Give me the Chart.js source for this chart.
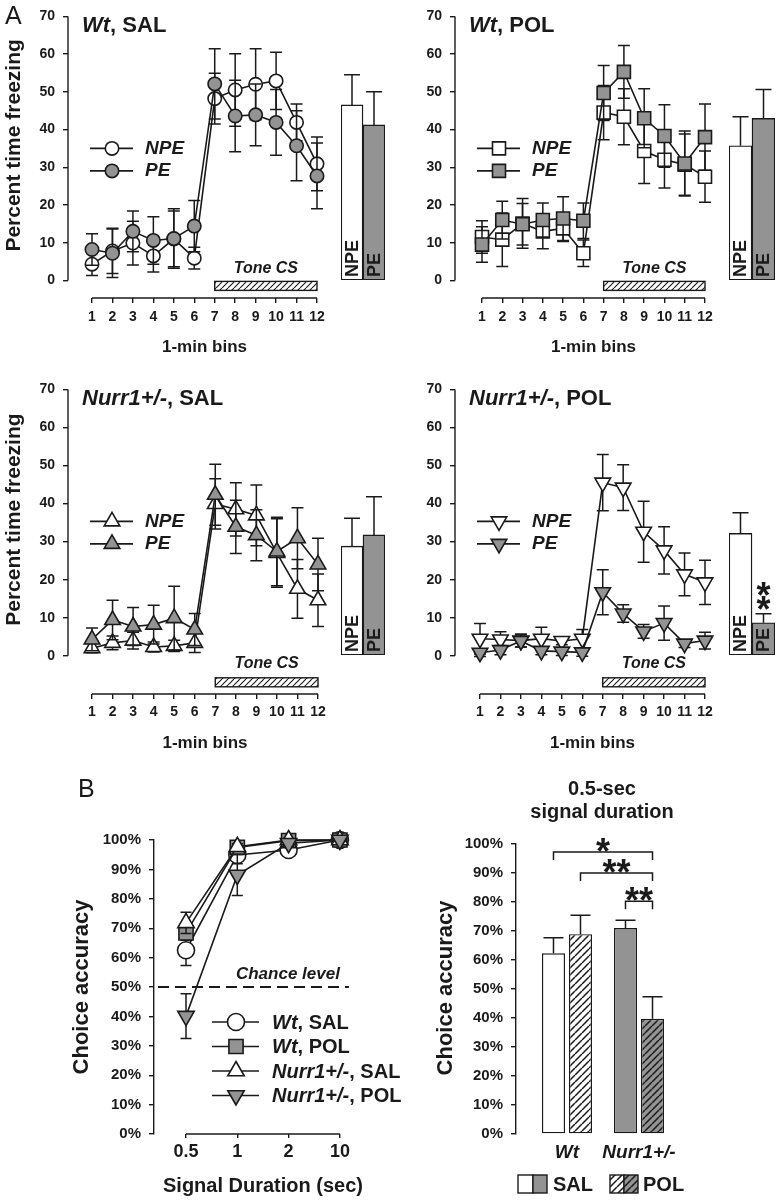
<!DOCTYPE html>
<html><head><meta charset="utf-8">
<script src="https://cdn.jsdelivr.net/npm/chart.js@4.4.1/dist/chart.umd.min.js"></script>
<style>
html,body{margin:0;padding:0;background:#fff;width:780px;height:1200px;overflow:hidden;}
canvas{position:absolute;}
</style></head><body>
<script>
// ================= DATA =================
// Panel A: percent time freezing per 1-min bin
const bins = [1, 2, 3, 4, 5, 6, 7, 8, 9, 10, 11, 12];
const toneBins = [7, 12];
const yTicksA = [0, 10, 20, 30, 40, 50, 60, 70];
const groupLabelsA = ['NPE', 'PE'];
const titlesA = ['Wt, SAL', 'Wt, POL', 'Nurr1+/-, SAL', 'Nurr1+/-, POL'];

const wtSalNPE    = [4.3, 7.8, 9.9, 6.5, 11.0, 5.9, 48.2, 50.5, 52.0, 52.9, 41.9, 30.9];
const wtSalNPEerr = [3.0, 6.0, 5.8, 4.3, 7.4, 2.9, 6.7, 9.6, 9.4, 7.6, 4.9, 7.1];
const wtSalPE     = [8.2, 7.2, 13.0, 10.6, 11.1, 14.4, 52.1, 43.6, 43.9, 41.9, 35.7, 27.7];
const wtSalPEerr  = [4.2, 6.4, 5.4, 6.3, 7.9, 6.8, 9.3, 9.5, 8.2, 8.7, 9.3, 8.7];
const wtSalBar    = [45.4, 40.2];
const wtSalBarErr = [7.8, 8.6];

const wtPolNPE    = [11.5, 10.8, 15.1, 13.0, 13.8, 7.2, 44.5, 43.4, 34.3, 32.0, 30.7, 27.5];
const wtPolNPEerr = [4.3, 7.1, 6.6, 4.6, 3.5, 3.5, 7.2, 7.4, 8.6, 7.5, 8.1, 6.8];
const wtPolPE     = [9.5, 16.0, 14.9, 16.0, 16.4, 15.8, 49.7, 55.3, 43.0, 38.3, 31.0, 38.0];
const wtPolPEerr  = [4.7, 5.0, 5.5, 4.5, 5.8, 4.7, 7.3, 7.0, 7.8, 8.3, 8.6, 8.8];
const wtPolBar    = [34.8, 41.9];
const wtPolBarErr = [7.5, 7.5];

const nSalNPE     = [2.0, 3.4, 4.0, 2.3, 2.6, 3.4, 39.9, 38.5, 36.9, 27.0, 17.6, 14.6];
const nSalNPEerr  = [1.2, 1.8, 2.2, 1.3, 1.5, 2.5, 6.6, 7.0, 8.0, 9.0, 7.7, 6.9];
const nSalPE      = [4.3, 9.4, 7.7, 8.2, 9.9, 6.9, 42.3, 33.9, 31.7, 27.4, 30.9, 24.0];
const nSalPEerr   = [3.0, 5.2, 5.0, 5.1, 8.4, 4.2, 8.0, 7.0, 6.7, 9.0, 8.0, 6.9];
const nSalBar     = [28.0, 30.9];
const nSalBarErr  = [7.2, 9.8];

const nPolNPE     = [4.5, 4.3, 4.0, 4.5, 3.9, 4.5, 45.5, 44.2, 32.6, 27.7, 21.4, 19.3];
const nPolNPEerr  = [4.0, 2.0, 1.7, 3.0, 1.0, 2.4, 7.4, 6.0, 8.0, 6.2, 5.6, 5.8];
const nPolPE      = [0.8, 1.5, 3.9, 1.3, 1.1, 0.9, 16.7, 11.1, 6.4, 8.6, 3.2, 4.0];
const nPolPEerr   = [1.0, 1.2, 1.6, 1.0, 1.0, 1.0, 5.9, 2.3, 1.8, 4.5, 1.0, 2.2];
const nPolBar     = [31.3, 8.3];
const nPolBarErr  = [5.3, 2.3];
const noSig       = ['', ''];
const nPolSig     = ['', '**'];

// Panel B left: choice accuracy vs signal duration
const durations = ['0.5', '1', '2', '10'];
const seriesB   = ['Wt, SAL', 'Wt, POL', 'Nurr1+/-, SAL', 'Nurr1+/-, POL'];
const bWtSal    = [62.5, 94.9, 96.6, 100];
const bWtSalErr = [5.2, 3.0, 1.0, 0.5];
const bWtPol    = [68.4, 97.5, 99.8, 100];
const bWtPolErr = [2.5, 1.0, 0.5, 0.5];
const bNSal     = [71.8, 97.7, 100, 100];
const bNSalErr  = [3.6, 1.0, 0.5, 0.5];
const bNPol     = [40.1, 88.1, 98.9, 100];
const bNPolErr  = [7.6, 7.0, 1.0, 0.5];
const chanceLevel = 50;
const yTicksB = [0, 10, 20, 30, 40, 50, 60, 70, 80, 90, 100];

// Panel B right: 0.5-sec signal duration
const groupsB  = ['Wt', 'Nurr1+/-'];
const treatB   = ['SAL', 'POL'];
const salMeans = [62.3, 71.0];
const salErr   = [5.4, 2.7];
const polMeans = [68.9, 39.7];
const polErr   = [6.5, 7.6];
// [datasetA, indexA, datasetB, indexB, bracket level (%), stars]
const sigB = [[0, 0, 1, 1, 97.2, '*'], [1, 0, 1, 1, 90.0, '**'], [0, 1, 1, 1, 80.3, '**']];

// ================= STYLE / HELPERS =================
const DARK = '#1a1a1a', GRAY = '#939393';
const FF = '"Liberation Sans", Arial, Helvetica, sans-serif';
const fnt = (s, b = true, it = false) => `${it ? 'italic ' : ''}${b ? 'bold ' : ''}${s}px ${FF}`;
Chart.defaults.font.family = FF;
Chart.defaults.color = DARK;

function hatch(bg, fg, s, lw) {
  const c = document.createElement('canvas'); c.width = s; c.height = s;
  const g = c.getContext('2d');
  g.fillStyle = bg; g.fillRect(0, 0, s, s);
  g.strokeStyle = fg; g.lineWidth = lw;
  g.beginPath();
  for (const o of [-s, 0, s]) { g.moveTo(o, s); g.lineTo(o + s, 0); }
  g.stroke();
  return g.createPattern(c, 'repeat');
}
const hatchTone = hatch('#fff', DARK, 6, 1.1);
const hatchW = hatch('#fff', DARK, 7, 1.5);
const hatchG = hatch(GRAY, DARK, 7, 1.5);

function mk(left, top, w, h) {
  const c = document.createElement('canvas');
  c.width = w; c.height = h;
  c.style.left = left + 'px'; c.style.top = top + 'px';
  c.style.width = w + 'px'; c.style.height = h + 'px';
  document.body.appendChild(c);
  return c.getContext('2d');
}
function line(ctx, x0, y0, x1, y1) { ctx.beginPath(); ctx.moveTo(x0, y0); ctx.lineTo(x1, y1); ctx.stroke(); }
function vtext(ctx, t, x, y, font) {
  ctx.save(); ctx.translate(x, y); ctx.rotate(-Math.PI / 2);
  ctx.font = font; ctx.textAlign = 'center'; ctx.textBaseline = 'middle';
  ctx.fillText(t, 0, 0); ctx.restore();
}
function drawRich(ctx, label, x, y, size, align) {
  const i = label.indexOf(', ');
  const parts = i < 0 ? [[label, false]] : [[label.slice(0, i), true], [label.slice(i), false]];
  const ws = parts.map(([t, it]) => { ctx.font = fnt(size, true, it); return ctx.measureText(t).width; });
  const tot = ws.reduce((a, b) => a + b, 0);
  let cx = align === 'center' ? x - tot / 2 : align === 'right' ? x - tot : x;
  ctx.textAlign = 'left';
  parts.forEach(([t, it], k) => { ctx.font = fnt(size, true, it); ctx.fillText(t, cx, y); cx += ws[k]; });
}
function marker(ctx, ds, x, y) {
  ctx.save();
  ctx.fillStyle = ds.pointBackgroundColor; ctx.strokeStyle = DARK; ctx.lineWidth = ds.pointBorderWidth;
  Chart.helpers.drawPoint(ctx, { pointStyle: ds.pointStyle, rotation: ds.pointRotation || 0,
    radius: ds.pointRadius, borderWidth: ds.pointBorderWidth }, x, y);
  ctx.restore();
}
function stars(ctx, s, cx, cy, vertical) {
  ctx.save(); ctx.font = fnt(36); ctx.textAlign = 'center'; ctx.textBaseline = 'alphabetic'; ctx.fillStyle = DARK;
  const n = s.length;
  for (let k = 0; k < n; k++) {
    const off = (k - (n - 1) / 2) * 14;
    if (vertical) ctx.fillText('*', cx, cy - off + 19.8);
    else ctx.fillText('*', cx + off, cy + 19.8);
  }
  ctx.restore();
}
function drawErr(chart, meta, ds) {
  const ctx = chart.ctx, ys = chart.scales[meta.yAxisID];
  ctx.save(); ctx.strokeStyle = DARK; ctx.lineWidth = 1.5;
  meta.data.forEach((el, i) => {
    const v = ds.data[i]; const val = (typeof v === 'object') ? v.y : v; const e = ds.err[i];
    const hw = (ds.errCap || 12) / 2, px = el.x;
    const pt = ys.getPixelForValue(val + e);
    const pb = ds.errUp ? ys.getPixelForValue(val) : ys.getPixelForValue(val - e);
    ctx.beginPath();
    ctx.moveTo(px, pt); ctx.lineTo(px, pb);
    ctx.moveTo(px - hw, pt); ctx.lineTo(px + hw, pt);
    if (!ds.errUp) { ctx.moveTo(px - hw, pb); ctx.lineTo(px + hw, pb); }
    ctx.stroke();
  });
  ctx.restore();
}
const errPlugin = {
  id: 'errbars',
  beforeDatasetDraw(chart, args) { const ds = chart.data.datasets[args.index]; if (ds.err && !ds.errUp) drawErr(chart, args.meta, ds); },
  afterDatasetDraw(chart, args) { const ds = chart.data.datasets[args.index]; if (ds.err && ds.errUp) drawErr(chart, args.meta, ds); }
};
function baseOpts(pad) {
  return { responsive: false, animation: false, events: [], devicePixelRatio: 1,
    layout: { padding: pad, autoPadding: false },
    plugins: { legend: { display: false }, tooltip: { enabled: false }, title: { display: false } } };
}
function lineDs(label, data, err, fill, style, rot, r, order, lw) {
  return { label, data, err, order, clip: false, borderColor: DARK, borderWidth: lw, tension: 0, fill: false,
    pointStyle: style, pointRotation: rot, pointRadius: r, pointHoverRadius: r,
    pointBackgroundColor: fill, pointBorderColor: DARK, pointBorderWidth: lw, pointHoverBorderWidth: lw, errCap: 12 };
}

// ================= PANEL A =================
const panelsA = [
  { title: titlesA[0], npe: wtSalNPE, npeErr: wtSalNPEerr, pe: wtSalPE, peErr: wtSalPEerr, bar: wtSalBar, barErr: wtSalBarErr, sig: noSig,
    style: 'circle', rot: 0, r: 6.7, canvasLeft: 0, axisX: 68, x1: 92, x12: 317, y70: 10, y0: 280, xAxisY: 298,
    bars: [341, 385], yTitle: true, letter: 'A', tone: [-12, 1, 10], xTickPad: 6 },
  { title: titlesA[1], npe: wtPolNPE, npeErr: wtPolNPEerr, pe: wtPolPE, peErr: wtPolPEerr, bar: wtPolBar, barErr: wtPolBarErr, sig: noSig,
    style: 'rect', rot: 0, r: 9.2, canvasLeft: 410, axisX: 455, x1: 482, x12: 705, y70: 10, y0: 280, xAxisY: 298,
    bars: [729, 775], yTitle: false, tone: [-12, 1, 10], xTickPad: 6 },
  { title: titlesA[2], npe: nSalNPE, npeErr: nSalNPEerr, pe: nSalPE, peErr: nSalPEerr, bar: nSalBar, barErr: nSalBarErr, sig: noSig,
    style: 'triangle', rot: 0, r: 9, canvasLeft: 0, axisX: 68, x1: 92, x12: 318, y70: 383, y0: 655, xAxisY: 694,
    bars: [341, 385], yTitle: true, tone: [8, 22, 31], xTickPad: 5 },
  { title: titlesA[3], npe: nPolNPE, npeErr: nPolNPEerr, pe: nPolPE, peErr: nPolPEerr, bar: nPolBar, barErr: nPolBarErr, sig: nPolSig,
    style: 'triangle', rot: 180, r: 9, canvasLeft: 410, axisX: 455, x1: 480, x12: 705, y70: 383, y0: 655, xAxisY: 694,
    bars: [729, 775], yTitle: false, tone: [8, 22, 31], xTickPad: 5 }
];

function decoA(p) {
  return { id: 'decoA', afterDraw(chart) {
    const ctx = chart.ctx, xs = chart.scales.x, ys = chart.scales.y, ca = chart.chartArea;
    ctx.save();
    ctx.strokeStyle = DARK; ctx.fillStyle = DARK; ctx.lineWidth = 1.4;
    const z = ys.getPixelForValue(0);
    line(ctx, ca.left, z, ca.left, ys.getPixelForValue(yTicksA[yTicksA.length - 1]));
    line(ctx, xs.getPixelForValue(bins[0]), ca.bottom, xs.getPixelForValue(bins[bins.length - 1]), ca.bottom);
    // Tone CS bar
    const t0 = xs.getPixelForValue(toneBins[0]), t1 = xs.getPixelForValue(toneBins[1]);
    ctx.fillStyle = hatchTone; ctx.fillRect(t0, z + p.tone[1], t1 - t0, p.tone[2] - p.tone[1]);
    ctx.strokeRect(t0, z + p.tone[1], t1 - t0, p.tone[2] - p.tone[1]);
    ctx.fillStyle = DARK; ctx.font = fnt(16, true, true); ctx.textAlign = 'center'; ctx.textBaseline = 'middle';
    ctx.fillText('Tone CS', (t0 + t1) / 2, z + p.tone[0]);
    // title
    ctx.textBaseline = 'alphabetic';
    drawRich(ctx, p.title, ca.left + 14, ca.top + 15.5, 22, 'left');
    // legend
    chart.data.datasets.forEach((ds, i) => {
      const yy = ca.top + 132 + 22.5 * i;
      ctx.lineWidth = 1.6; line(ctx, ca.left + 22, yy, ca.left + 65, yy);
      marker(ctx, ds, ca.left + 44, yy);
      ctx.fillStyle = DARK; ctx.font = fnt(19, true, true); ctx.textAlign = 'left'; ctx.textBaseline = 'middle';
      ctx.fillText(ds.label, ca.left + 77, yy);
    });
    // axis titles
    if (p.yTitle) vtext(ctx, 'Percent time freezing', 14 - p.canvasLeft, (z + ys.getPixelForValue(70)) / 2 - 3, fnt(21));
    ctx.font = fnt(17); ctx.textAlign = 'center'; ctx.textBaseline = 'middle';
    ctx.fillText('1-min bins', (ca.left + ca.right) / 2, ca.bottom + 49);
    if (p.letter) { ctx.font = fnt(25, false); ctx.textAlign = 'left'; ctx.textBaseline = 'alphabetic'; ctx.fillText(p.letter, 5, 24); }
    ctx.restore();
  } };
}
const barLabelsA = { id: 'barLabelsA', afterDraw(chart) {
  const ctx = chart.ctx, ds = chart.data.datasets[0], meta = chart.getDatasetMeta(0), ys = chart.scales.y;
  ctx.save(); ctx.fillStyle = DARK;
  meta.data.forEach((el, i) => {
    ctx.save(); ctx.translate(el.x, el.base - 3); ctx.rotate(-Math.PI / 2);
    ctx.font = fnt(18); ctx.textAlign = 'left'; ctx.textBaseline = 'middle';
    ctx.fillText(chart.data.labels[i], 0, 1); ctx.restore();
    if (ds.sig && ds.sig[i]) {
      const top = ys.getPixelForValue(ds.data[i] + ds.err[i]);
      stars(ctx, ds.sig[i], el.x, top - 19, true);
    }
  });
  ctx.restore();
} };

function buildA(p) {
  const ysW = p.axisX - p.canvasLeft;
  const ppuX = (p.x12 - p.x1) / 11;
  const mX = (p.x1 - p.axisX) / ppuX;
  const chartRight = p.x12 + (p.x1 - p.axisX);
  const W = chartRight - p.canvasLeft + 4;
  const top = p.y70 - 10;
  const H = p.xAxisY - top + 62;
  const ppuY = (p.y0 - p.y70) / 70;
  const yMin = -(p.xAxisY - p.y0) / ppuY;
  const ctx = mk(p.canvasLeft, top, W, H);
  const opts = baseOpts({ top: 10, right: 4, bottom: 0, left: 0 });
  opts.scales = {
    x: { type: 'linear', bounds: 'data', min: 1 - mX, max: 12 + mX, offset: false,
      afterFit: s => { s.height = 62; },
      afterBuildTicks: s => { s.ticks = bins.map(v => ({ value: v })); },
      border: { display: false },
      grid: { drawOnChartArea: false, drawTicks: true, tickLength: 5, color: DARK, lineWidth: 1.4 },
      ticks: { autoSkip: false, maxRotation: 0, padding: p.xTickPad, color: DARK, font: { size: 14, weight: 'bold' }, callback: v => String(v) } },
    y: { type: 'linear', bounds: 'data', min: yMin, max: 70,
      afterFit: s => { s.width = ysW; },
      afterBuildTicks: s => { s.ticks = yTicksA.map(v => ({ value: v })); },
      border: { display: false },
      grid: { drawOnChartArea: false, drawTicks: true, tickLength: 5, color: DARK, lineWidth: 1.4 },
      ticks: { padding: 8, color: DARK, font: { size: 14, weight: 'bold' }, callback: v => String(v) } }
  };
  new Chart(ctx, {
    type: 'line',
    data: { labels: bins, datasets: [
      lineDs(groupLabelsA[0], p.npe, p.npeErr, '#fff', p.style, p.rot, p.r, 1, 1.6),
      lineDs(groupLabelsA[1], p.pe, p.peErr, GRAY, p.style, p.rot, p.r, 0, 1.6)
    ] },
    options: opts,
    plugins: [errPlugin, decoA(p)]
  });
  // side bars (overall NPE vs PE)
  const bctx = mk(p.bars[0], top, p.bars[1] - p.bars[0], p.y0 - top + 4);
  const bopts = baseOpts({ top: 10, right: 0, bottom: 4, left: 0 });
  bopts.scales = { x: { display: false }, y: { display: false, min: 0, max: 70 } };
  new Chart(bctx, {
    type: 'bar',
    data: { labels: groupLabelsA, datasets: [{ data: p.bar, err: p.barErr, errUp: true, errCap: 16, sig: p.sig,
      backgroundColor: ['#fff', GRAY], borderColor: DARK, borderWidth: 1.4, borderSkipped: false,
      categoryPercentage: 1, barPercentage: 1 }] },
    options: bopts,
    plugins: [errPlugin, barLabelsA]
  });
}
panelsA.forEach(buildA);

// ================= PANEL B LEFT =================
(function () {
  const ctx = mk(0, 760, 420, 440);
  const opts = baseOpts({ top: 80, right: 48, bottom: 0, left: 0 });
  opts.scales = {
    x: { type: 'linear', bounds: 'data', min: -0.624, max: 3.626, offset: false,
      afterFit: s => { s.height = 66; },
      afterBuildTicks: s => { s.ticks = durations.map((d, i) => ({ value: i })); },
      border: { display: false },
      grid: { drawOnChartArea: false, drawTicks: true, tickLength: 4, color: DARK, lineWidth: 1.4 },
      ticks: { autoSkip: false, maxRotation: 0, padding: 3, color: DARK, font: { size: 18, weight: 'bold' }, callback: v => durations[v] } },
    y: { type: 'linear', bounds: 'data', min: 0, max: 100,
      afterFit: s => { s.width = 154; },
      afterBuildTicks: s => { s.ticks = yTicksB.map(v => ({ value: v })); },
      border: { display: true, color: DARK, width: 1.4 },
      grid: { drawOnChartArea: false, drawTicks: true, tickLength: 5, color: DARK, lineWidth: 1.4 },
      ticks: { padding: 8, color: DARK, font: { size: 15, weight: 'bold' }, callback: v => v + '%' } }
  };
  const mkB = (i, data, err, fill, style, rot, r) => {
    const d = lineDs(seriesB[i], data, err, fill, style, rot, r, 3 - i, 1.6); d.errCap = 11; return d;
  };
  const deco = { id: 'decoBL', afterDraw(chart) {
    const c = chart.ctx, xs = chart.scales.x, ys = chart.scales.y, ca = chart.chartArea;
    c.save(); c.strokeStyle = DARK; c.fillStyle = DARK; c.lineWidth = 1.4;
    line(c, xs.getPixelForValue(0), ca.bottom, xs.getPixelForValue(durations.length - 1), ca.bottom);
    // chance line
    const yc = ys.getPixelForValue(chanceLevel), xEnd = xs.getPixelForValue(durations.length - 1);
    c.lineWidth = 2; c.setLineDash([11, 6]); line(c, ca.left + 4, yc, xEnd + 9, yc); c.setLineDash([]);
    c.font = fnt(17, true, true); c.textAlign = 'right'; c.textBaseline = 'alphabetic';
    c.fillText('Chance level', xEnd, yc - 8);
    // legend
    chart.data.datasets.forEach((ds, i) => {
      const yy = ca.top + 182 + 24.5 * i;
      c.lineWidth = 1.6; line(c, ca.left + 58, yy, ca.left + 105, yy);
      marker(c, ds, ca.left + 82, yy);
      c.fillStyle = DARK; c.textBaseline = 'middle';
      drawRich(c, ds.label, ca.left + 118, yy + 1, 20, 'left');
    });
    vtext(c, 'Choice accuracy', 82, (ca.top + ca.bottom) / 2, fnt(22));
    c.font = fnt(20); c.textAlign = 'center'; c.textBaseline = 'middle';
    c.fillText('Signal Duration (sec)', (ca.left + ca.right) / 2, ca.bottom + 52);
    c.font = fnt(25, false); c.textAlign = 'left'; c.textBaseline = 'alphabetic';
    c.fillText('B', 78, 37);
    c.restore();
  } };
  new Chart(ctx, {
    type: 'line',
    data: { labels: durations.map((d, i) => i), datasets: [
      mkB(0, bWtSal, bWtSalErr, '#fff', 'circle', 0, 8.5),
      mkB(1, bWtPol, bWtPolErr, GRAY, 'rect', 0, 10),
      mkB(2, bNSal, bNSalErr, '#fff', 'triangle', 0, 9.5),
      mkB(3, bNPol, bNPolErr, GRAY, 'triangle', 180, 9.5)
    ] },
    options: opts,
    plugins: [errPlugin, deco]
  });
})();

// ================= PANEL B RIGHT =================
(function () {
  const ctx = mk(400, 760, 380, 440);
  const opts = baseOpts({ top: 84, right: 80, bottom: 0, left: 0 });
  opts.scales = {
    x: { type: 'linear', bounds: 'data', min: -0.708, max: 1.847, offset: false,
      afterFit: s => { s.height = 66; },
      afterBuildTicks: s => { s.ticks = groupsB.map((g, i) => ({ value: i })); },
      border: { display: false },
      grid: { display: false, drawTicks: false, offset: false },
      ticks: { autoSkip: false, maxRotation: 0, padding: 7, color: DARK, font: { size: 19, weight: 'bold', style: 'italic' }, callback: v => groupsB[v] } },
    y: { type: 'linear', bounds: 'data', min: 0, max: 100,
      afterFit: s => { s.width = 116; },
      afterBuildTicks: s => { s.ticks = yTicksB.map(v => ({ value: v })); },
      border: { display: true, color: DARK, width: 1.4 },
      grid: { drawOnChartArea: false, drawTicks: true, tickLength: 5, color: DARK, lineWidth: 1.4 },
      ticks: { padding: 8, color: DARK, font: { size: 15, weight: 'bold' }, callback: v => v + '%' } }
  };
  const deco = { id: 'decoBR', afterDraw(chart) {
    const c = chart.ctx, ys = chart.scales.y, ca = chart.chartArea;
    c.save(); c.strokeStyle = DARK; c.fillStyle = DARK; c.lineWidth = 1.4;
    // title
    c.font = fnt(20); c.textAlign = 'center'; c.textBaseline = 'middle';
    c.fillText('0.5-sec', ca.left + 86, ca.top - 55);
    c.fillText('signal duration', ca.left + 86, ca.top - 32);
    vtext(c, 'Choice accuracy', 46, (ca.top + ca.bottom) / 2 - 1, fnt(22));
    // significance brackets
    sigB.forEach(([da, ia, db, ib, lvl, s]) => {
      const xa = chart.getDatasetMeta(da).data[ia].x, xb = chart.getDatasetMeta(db).data[ib].x;
      const yy = ys.getPixelForValue(lvl);
      c.lineWidth = 1.5;
      c.beginPath(); c.moveTo(xa, yy + 8); c.lineTo(xa, yy); c.lineTo(xb, yy); c.lineTo(xb, yy + 8); c.stroke();
      stars(c, s, (xa + xb) / 2, yy - 8, false);
    });
    // legend
    const y0 = ca.bottom + 41, h = 18, L = ca.left;
    const box = (x, w, fill) => { c.fillStyle = fill; c.fillRect(x, y0, w, h); c.lineWidth = 1.4; c.strokeRect(x, y0, w, h); };
    box(L + 2, 15, '#fff'); box(L + 17, 14, GRAY);
    box(L + 94, 14, hatchW); box(L + 108, 14, hatchG);
    c.fillStyle = DARK; c.font = fnt(20); c.textAlign = 'left'; c.textBaseline = 'middle';
    c.fillText(treatB[0], L + 37, y0 + h / 2 + 1);
    c.fillText(treatB[1], L + 127, y0 + h / 2 + 1);
    c.restore();
  } };
  new Chart(ctx, {
    type: 'bar',
    data: { labels: groupsB.map((g, i) => i), datasets: [
      { label: treatB[0], data: salMeans, err: salErr, errUp: true, errCap: 20,
        backgroundColor: ['#fff', GRAY], borderColor: DARK, borderWidth: 1.4, borderSkipped: false,
        categoryPercentage: 0.75, barPercentage: 0.852 },
      { label: treatB[1], data: polMeans, err: polErr, errUp: true, errCap: 20,
        backgroundColor: [hatchW, hatchG], borderColor: DARK, borderWidth: 1.4, borderSkipped: false,
        categoryPercentage: 0.75, barPercentage: 0.852 }
    ] },
    options: opts,
    plugins: [errPlugin, deco]
  });
})();
</script>
</body></html>
